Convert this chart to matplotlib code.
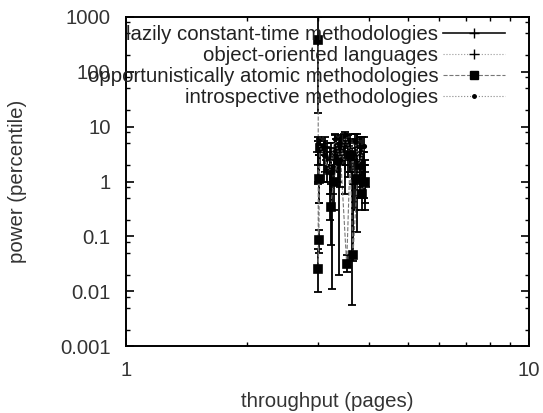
import numpy as np
import matplotlib.pyplot as plt
from matplotlib.ticker import LogLocator, NullFormatter, FixedLocator, FixedFormatter

plt.rcParams['font.family'] = ['Liberation Sans', 'DejaVu Sans']

# lazily constant-time methodologies
x1 = [3.0, 3.12, 3.22, 3.3, 3.38, 3.48, 3.55, 3.64, 3.75, 3.85, 3.93]
y1 = [3.5, 4.2, 2.0, 5.0, 3.0, 5.5, 4.5, 1.2, 6.0, 3.5, 0.8]
lo1 = [0.9, 1.5, 0.3, 1.8, 0.02, 2.0, 1.2, 0.0056, 2.5, 1.0, 0.3]
hi1 = [5.5, 6.5, 5.0, 7.0, 6.0, 7.5, 7.0, 4.0, 7.5, 6.5, 2.0]

# object-oriented languages
x2 = [3.02, 3.15, 3.25, 3.33, 3.42, 3.5, 3.6, 3.7, 3.8, 3.9]
y2 = [1.0, 2.5, 0.6, 3.5, 4.5, 2.0, 5.0, 0.9, 4.0, 1.5]
lo2 = [0.4, 1.0, 0.011, 1.5, 2.5, 0.6, 2.5, 0.3, 1.5, 0.5]
hi2 = [3.0, 5.0, 2.0, 6.0, 7.0, 4.5, 7.5, 2.5, 6.5, 3.5]

# opportunistically atomic methodologies
x3 = [3.0, 3.0, 3.01, 3.02, 3.03, 3.2, 3.22, 3.28, 3.35, 3.4, 3.53, 3.6,
      3.66, 3.75, 3.8, 3.86, 3.93]
y3 = [380, 0.025, 0.085, 1.1, 4.0, 1.6, 0.35, 1.0, 2.5, 4.0, 0.031, 3.0,
      0.046, 1.1, 2.0, 0.6, 1.0]
lo3 = [18, 0.0095, 0.05, 0.4, 2.0, 0.6, 0.07, 0.3, 1.0, 2.0, 0.022, 1.5,
       0.035, 0.12, 0.8, 0.3, 0.4]
hi3 = [1000, 0.06, 0.13, 3.0, 6.0, 3.5, 0.9, 2.5, 5.0, 6.5, 0.045, 5.5,
       0.9, 3.0, 4.0, 1.5, 2.5]

# introspective methodologies
x4 = [3.0, 3.1, 3.2, 3.3, 3.4, 3.5, 3.6, 3.7, 3.8, 3.9]
y4 = [5.0, 3.0, 1.5, 6.0, 2.5, 7.0, 3.5, 5.5, 2.0, 4.5]
lo4 = [2.0, 1.0, 0.2, 3.0, 0.8, 4.0, 1.5, 2.5, 0.5, 2.0]
hi4 = [6.5, 5.5, 4.0, 7.5, 5.0, 8.0, 6.0, 7.5, 4.5, 6.5]

labels = ["lazily constant-time methodologies", "object-oriented languages",
          "opportunistically atomic methodologies", "introspective methodologies"]

fs = 14.7
fig = plt.figure(figsize=(5.43, 4.13), dpi=100)
ax = fig.add_axes([0.232, 0.162, 0.742, 0.797])

series = [(x1, y1, lo1, hi1, '-', '+', 7, 1.2, '#111111'),
          (x2, y2, lo2, hi2, ':', '+', 7, 0.8, '#999999'),
          (x3, y3, lo3, hi3, '--', 's', 6, 0.8, '#777777'),
          (x4, y4, lo4, hi4, ':', '.', 5, 0.8, '#888888')]

for (x, y, lo, hi, ls, mk, ms, lw, lc), lab in zip(series, labels):
    y = np.array(y)
    err = [y - np.array(lo), np.array(hi) - y]
    ax.errorbar(x, y, yerr=err, fmt='none', ecolor='black', elinewidth=1.3,
                capsize=3, capthick=1.3)
    ax.plot(x, y, linestyle=ls, color=lc, linewidth=lw)
    ax.plot(x, y, linestyle='none', marker=mk, color='black', markersize=ms,
            markeredgewidth=1.2)
    ax.plot([], [], linestyle=ls, color=lc, linewidth=lw if ls == '-' else 0.8,
            marker=mk, markersize=ms, markeredgecolor='black',
            markerfacecolor='black', label=lab)

ax.set_xscale('log')
ax.set_yscale('log')
ax.set_xlim(1, 10)
ax.set_ylim(0.001, 1000)

ax.xaxis.set_major_locator(FixedLocator([1, 10]))
ax.xaxis.set_major_formatter(FixedFormatter(['1', '10']))
ax.xaxis.set_minor_locator(LogLocator(base=10, subs=np.arange(2, 10)))
ax.xaxis.set_minor_formatter(NullFormatter())
ax.yaxis.set_major_locator(FixedLocator([0.001, 0.01, 0.1, 1, 10, 100, 1000]))
ax.yaxis.set_major_formatter(FixedFormatter(['0.001', '0.01', '0.1', '1', '10', '100', '1000']))
ax.yaxis.set_minor_locator(LogLocator(base=10, subs=(2.0, 5.0, 8.0)))
ax.yaxis.set_minor_formatter(NullFormatter())

ax.tick_params(which='both', direction='in', top=True, right=True, color='black')
ax.tick_params(which='major', length=6, width=1.2, labelsize=fs, pad=11, labelcolor='#333333')
ax.tick_params(which='minor', length=3, width=1.0)
for s in ax.spines.values():
    s.set_linewidth(1.4)

ax.set_xlabel("throughput (pages)", fontsize=fs, color='#333333')
ax.xaxis.set_label_coords(0.5, -0.14)
ax.set_ylabel("power (percentile)", fontsize=fs, color='#333333')
ax.yaxis.set_label_coords(-0.245, 0.5)

leg = ax.legend(loc='upper right', bbox_to_anchor=(0.94, 0.975), frameon=False,
                markerfirst=False, fontsize=fs, handlelength=3.0, handletextpad=0.25,
                labelspacing=0.1, borderaxespad=0.0, borderpad=0.0)
for t in leg.get_texts():
    t.set_color('#222222')

fig.savefig('out.png', dpi=100)
